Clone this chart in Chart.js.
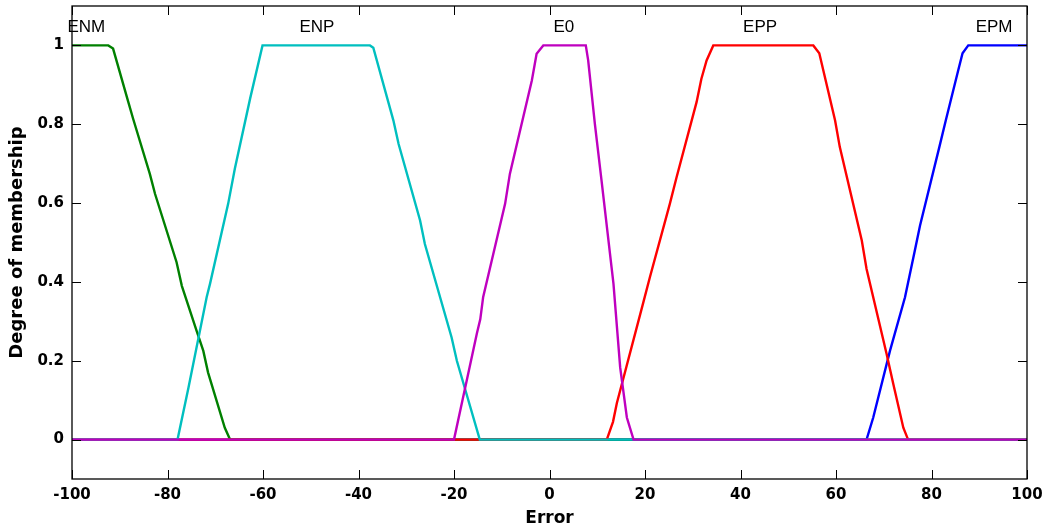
<!DOCTYPE html>
<html><head><meta charset="utf-8">
<script src="https://cdn.jsdelivr.net/npm/chart.js@4"></script>
<style>html,body{margin:0;padding:0;background:#fff}canvas{display:block}</style>
</head><body>
<canvas id="c" width="1044" height="531"></canvas>
<script>
// ---- data ----
const xTicks = [-100, -80, -60, -40, -20, 0, 20, 40, 60, 80, 100];
const yTicks = [0, 0.2, 0.4, 0.6, 0.8, 1];
const mfNames = ['ENM', 'ENP', 'E0', 'EPP', 'EPM'];
const mfLabelX = [-97, -48.7, 3.0, 44.1, 93.1];
const mfLabelY = 1.046;

const enmX = [-100, -92.4, -91.4, -88.2, -87.2, -83.7, -82.6, -78.1, -77.0, -73.9, -72.5, -71.5, -68.0, -66.9, 100];
const enmY = [1, 1, 0.992, 0.856, 0.814, 0.674, 0.623, 0.450, 0.390, 0.276, 0.225, 0.170, 0.030, 0, 0];

const enpX = [-100, -77.9, -75.6, -71.8, -71.1, -67.3, -65.9, -62.7, -60.1, -37.6, -36.9, -32.7, -31.6, -27.1, -26.1, -20.5, -19.4, -14.6, 100];
const enpY = [0, 0, 0.132, 0.361, 0.395, 0.598, 0.687, 0.865, 1, 1, 0.994, 0.81, 0.75, 0.556, 0.496, 0.259, 0.2, 0, 0];

const e0X = [-100, -20.0, -15.2, -14.5, -13.9, -9.3, -8.3, -3.7, -2.7, -1.3, 7.6, 8.1, 9.5, 10.9, 13.0, 13.4, 14.8, 16.2, 17.6, 100];
const e0Y = [0, 0, 0.27, 0.305, 0.361, 0.598, 0.674, 0.911, 0.979, 1, 1, 0.962, 0.801, 0.657, 0.437, 0.395, 0.183, 0.056, 0, 0];

const eppX = [-100, 12.0, 13.3, 14.1, 19.65, 21.05, 25.2, 26.6, 30.8, 31.8, 32.9, 34.3, 55.25, 56.5, 59.8, 60.8, 65.4, 66.4, 70.6, 72.0, 74.1, 75.1, 100];
const eppY = [0, 0, 0.045, 0.092, 0.348, 0.413, 0.598, 0.665, 0.856, 0.915, 0.962, 1, 1, 0.98, 0.81, 0.742, 0.505, 0.433, 0.217, 0.141, 0.03, 0, 0];

const epmX = [-100, 66.4, 67.8, 71.3, 74.45, 76.5, 77.6, 81.6, 83.0, 85.6, 86.5, 87.7, 100];
const epmY = [0, 0, 0.056, 0.225, 0.361, 0.479, 0.543, 0.74, 0.81, 0.937, 0.98, 1, 1];

// ---- build ----
function pts(xs, ys) { return xs.map((x, i) => ({ x: x, y: ys[i] })); }

function ds(label, xs, ys, color, order) {
  return {
    label: label, data: pts(xs, ys), borderColor: color, backgroundColor: color,
    borderWidth: 2.4, pointRadius: 0, pointHoverRadius: 0, tension: 0, fill: false, order: order
  };
}

const framePlugin = {
  id: 'frame',
  afterDatasetsDraw(chart) {
    const ctx = chart.ctx, a = chart.chartArea, sx = chart.scales.x, sy = chart.scales.y;
    ctx.save();
    ctx.strokeStyle = '#000';
    ctx.lineWidth = 1.3;
    ctx.strokeRect(Math.round(a.left), Math.round(a.top), Math.round(a.right - a.left), Math.round(a.bottom - a.top));
    const tl = 9;
    ctx.lineWidth = 1;
    ctx.beginPath();
    xTicks.forEach(v => {
      const px = Math.round(sx.getPixelForValue(v)) + 0.5;
      ctx.moveTo(px, a.bottom); ctx.lineTo(px, a.bottom - tl);
      ctx.moveTo(px, a.top); ctx.lineTo(px, a.top + tl);
    });
    yTicks.forEach(v => {
      const py = Math.round(sy.getPixelForValue(v)) + 0.5;
      ctx.moveTo(a.left, py); ctx.lineTo(a.left + tl, py);
      ctx.moveTo(a.right, py); ctx.lineTo(a.right - tl, py);
    });
    ctx.stroke();
    ctx.fillStyle = '#000';
    ctx.font = '17px "Liberation Sans", Arial, sans-serif';
    ctx.textAlign = 'center';
    ctx.textBaseline = 'middle';
    mfNames.forEach((n, i) => {
      ctx.fillText(n, sx.getPixelForValue(mfLabelX[i]), sy.getPixelForValue(mfLabelY));
    });
    ctx.restore();
  }
};

const tickFont = { family: '"DejaVu Sans", sans-serif', size: 15, weight: 'bold' };

new Chart(document.getElementById('c'), {
  type: 'line',
  data: {
    datasets: [
      ds('E0', e0X, e0Y, '#BF00BF', 0),
      ds('ENP', enpX, enpY, '#00BFBF', 1),
      ds('EPP', eppX, eppY, '#FF0000', 2),
      ds('ENM', enmX, enmY, '#008000', 3),
      ds('EPM', epmX, epmY, '#0000FF', 4)
    ]
  },
  options: {
    responsive: false,
    animation: false,
    events: [],
    layout: { padding: { top: 6, right: 17, left: 0, bottom: 0 } },
    plugins: { legend: { display: false }, tooltip: { enabled: false } },
    scales: {
      x: {
        type: 'linear', min: -100, max: 100,
        afterBuildTicks: s => { s.ticks = xTicks.map(v => ({ value: v })); },
        afterFit: s => { s.height = 52; s.paddingLeft = 0; s.paddingRight = 0; },
        grid: { display: false, drawTicks: false },
        border: { display: false },
        ticks: { font: tickFont, color: '#000', padding: 7, maxRotation: 0, autoSkip: false, callback: v => String(v) },
        title: { display: true, text: 'Error', color: '#000', font: { family: '"DejaVu Sans", sans-serif', size: 17, weight: 'bold' }, padding: { top: 0, bottom: 2 } }
      },
      y: {
        type: 'linear', min: -0.1, max: 1.1,
        afterBuildTicks: s => { s.ticks = yTicks.map(v => ({ value: v })); },
        afterFit: s => { s.width = 72; s.paddingTop = 0; s.paddingBottom = 0; },
        grid: { display: false, drawTicks: false },
        border: { display: false },
        ticks: { font: tickFont, color: '#000', padding: 8, autoSkip: false, callback: v => String(+Number(v).toFixed(2)) },
        title: { display: true, text: 'Degree of membership', color: '#000', font: { family: '"DejaVu Sans", sans-serif', size: 18, weight: 'bold' }, padding: { top: 7, bottom: 0 } }
      }
    }
  },
  plugins: [framePlugin]
});
</script>
</body></html>
